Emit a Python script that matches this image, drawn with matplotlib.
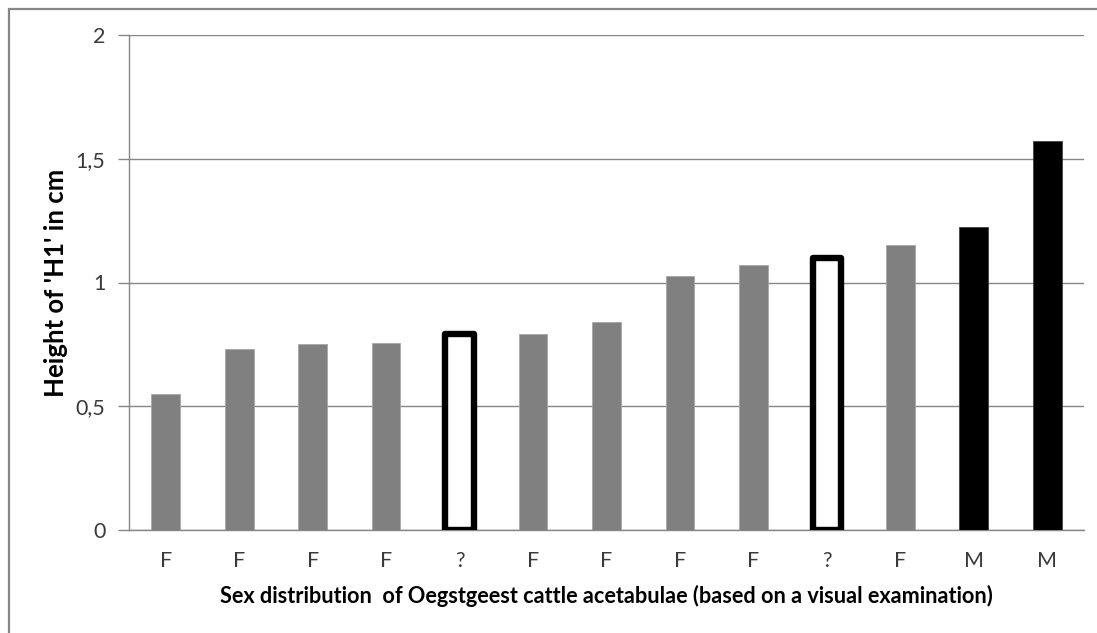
import matplotlib
matplotlib.use("Agg")
import matplotlib.pyplot as plt
from matplotlib.patches import Rectangle

categories = ["F", "F", "F", "F", "?", "F", "F", "F", "F", "?", "F", "M", "M"]
values = [0.55, 0.73, 0.75, 0.755, 0.79, 0.79, 0.84, 1.027, 1.07, 1.10, 1.15, 1.225, 1.57]
y_ticks = [0, 0.5, 1, 1.5, 2]
y_tick_labels = ["0", "0,5", "1", "1,5", "2"]
x_label = "Sex distribution  of Oegstgeest cattle acetabulae (based on a visual examination)"
y_label = "Height of 'H1' in cm"

plt.rcParams['font.family'] = ['Lato', 'DejaVu Sans']

W, H = 1097, 633
fig = plt.figure(figsize=(W / 100, H / 100), dpi=100)
ax = fig.add_axes([129 / W, 1 - 530 / H, (1084 - 129) / W, (530 - 35) / H])

# outer chart frame (clipped at right/bottom like the reference)
fig.patches.append(Rectangle((9 / W, -0.05), 1.2, 1 - 9 / H + 0.05, transform=fig.transFigure,
                             fill=False, edgecolor="#878787", linewidth=1.6))

x = list(range(len(categories)))
for i, (c, v) in enumerate(zip(categories, values)):
    if c == "F":
        ax.bar(i, v, width=0.39, color="#808080", edgecolor="#a6a6a6", linewidth=0.6, zorder=3)
    elif c == "M":
        ax.bar(i, v, width=0.39, color="black", edgecolor="#404040", linewidth=0.6, zorder=3)
    else:
        ax.bar(i, v, width=0.39, color="white", edgecolor="black", linewidth=4.6,
               joinstyle="round", zorder=3)

ax.set_xlim(-0.5, len(categories) - 0.5)
ax.set_ylim(0, 2)
ax.set_yticks(y_ticks)
ax.set_yticklabels(y_tick_labels)
ax.set_xticks(x)
ax.set_xticklabels(categories)
ax.yaxis.grid(True, color="#868686", linewidth=1.0, zorder=0)
ax.set_axisbelow(True)
for s in ["top", "right"]:
    ax.spines[s].set_visible(False)
for s in ["left", "bottom"]:
    ax.spines[s].set_color("#868686")
    ax.spines[s].set_linewidth(1.0)
ax.tick_params(axis="y", length=8, width=1.0, color="#868686", labelsize=15.5,
               labelcolor="#3a3a3a", pad=9)
ax.tick_params(axis="x", length=0, labelsize=15.5, labelcolor="#3a3a3a", pad=15)

ax.set_xlabel(x_label, fontsize=15.6, fontweight="bold", color="black")
ax.xaxis.set_label_coords(0.5, (530 - 596) / 495)
ax.xaxis.label.set_va("center")
ax.set_ylabel(y_label, fontsize=18.5, fontweight="bold", color="black")
ax.yaxis.set_label_coords((56 - 129) / 955, 0.5)
ax.yaxis.label.set_va("center")

fig.savefig("out.png", dpi=100)
